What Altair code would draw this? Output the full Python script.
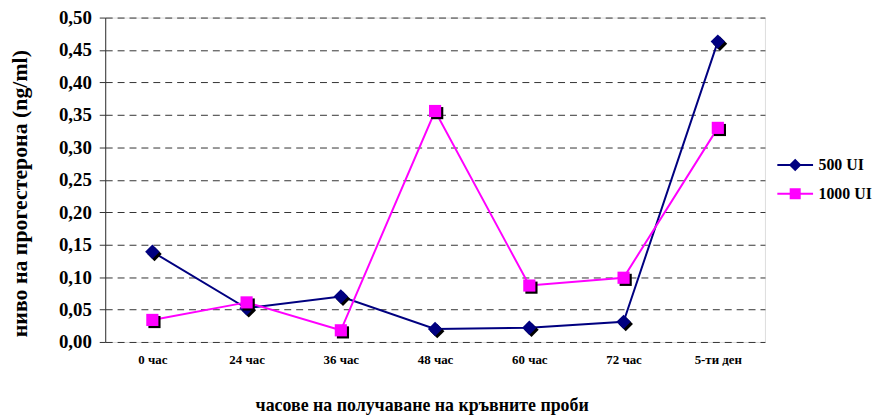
import altair as alt
import pandas as pd

categories = ["0 час", "24 час", "36 час", "48 час", "60 час", "72 час", "5-ти ден"]
series_names = ["500 UI", "1000 UI"]
values_500 = [0.139, 0.052, 0.070, 0.020, 0.022, 0.031, 0.463]
values_1000 = [0.034, 0.061, 0.018, 0.356, 0.087, 0.099, 0.330]
y_ticks = [0.0, 0.05, 0.10, 0.15, 0.20, 0.25, 0.30, 0.35, 0.40, 0.45, 0.50]
colors = ["#000080", "#FF00FF"]

rows = []
for c, v in zip(categories, values_500):
    rows.append({"cat": c, "series": series_names[0], "value": v})
for c, v in zip(categories, values_1000):
    rows.append({"cat": c, "series": series_names[1], "value": v})
df = pd.DataFrame(rows)

FONT = "Liberation Serif, Times New Roman, DejaVu Serif, serif"

DIAMOND = "M0,-1L1,0L0,1L-1,0Z"
DIAMOND_SH = "M0.3,-0.7L1.3,0.3L0.3,1.3L-0.7,0.3Z"
SQUARE = "M-1,-1L1,-1L1,1L-1,1Z"
SQUARE_SH = "M-0.65,-0.65L1.35,-0.65L1.35,1.35L-0.65,1.35Z"
BAR = "M-0.973,-0.054L0.973,-0.054L0.973,0.054L-0.973,0.054Z"
LEG_DIAMOND = BAR + "M0,-0.34L0.34,0L0,0.34L-0.34,0Z"
LEG_SQUARE = BAR + "M-0.3,-0.3L0.3,-0.3L0.3,0.3L-0.3,0.3Z"

x_enc = alt.X(
    "cat:N",
    sort=categories,
    scale=alt.Scale(type="point", padding=0.5),
    axis=alt.Axis(
        title="часове на получаване на кръвните проби",
        titleFont=FONT, titleFontSize=18, titleFontWeight="bold", titleColor="black",
        titleX=319, titleY=64, titleBaseline="middle", titleAlign="center",
        labelFont=FONT, labelFontSize=13, labelFontWeight="bold", labelColor="black",
        labelAngle=0, labelPadding=12, ticks=False, domain=False, grid=False,
    ),
)
y_enc = alt.Y(
    "value:Q",
    scale=alt.Scale(domain=[0, 0.5], nice=False, zero=True),
    axis=alt.Axis(
        title="ниво на прогестерона (ng/ml)",
        titleFont=FONT, titleFontSize=22, titleFontWeight="bold", titleColor="black",
        titleAngle=270, titleX=-86, titleY=177, titleAlign="center", titleBaseline="middle",
        values=y_ticks, labelOverlap=False,
        labelExpr="replace(format(datum.value, '.2f'), '.', ',')",
        labelFont=FONT, labelFontSize=19, labelFontWeight="bold", labelColor="black",
        labelPadding=8, tickSize=6, tickColor="#333333", domainColor="#333333",
        grid=True, gridColor="#333333", gridDash=[7, 5], gridWidth=1,
    ),
)

legend = alt.Legend(
    title=None, orient="none", legendX=677, legendY=130,
    labelFont=FONT, labelFontSize=16, labelFontWeight="bold", labelColor="black",
    symbolSize=1369, labelOffset=5, symbolOpacity=1, symbolStrokeWidth=0, labelLimit=200,
)

legend_layer = alt.Chart(df).mark_point(filled=True, opacity=0).encode(
    x=x_enc,
    y=y_enc,
    color=alt.Color("series:N", scale=alt.Scale(domain=series_names, range=colors), legend=legend),
    shape=alt.Shape("series:N", scale=alt.Scale(domain=series_names, range=[LEG_DIAMOND, LEG_SQUARE]), legend=legend),
)


def line(name, color):
    return alt.Chart(df).transform_filter(
        alt.datum.series == name
    ).mark_line(strokeWidth=2, color=color).encode(x=x_enc, y=y_enc)


def pts(name, shape, color, size):
    return alt.Chart(df).transform_filter(
        alt.datum.series == name
    ).mark_point(shape=shape, filled=True, size=size, opacity=1, color=color, strokeWidth=0).encode(
        x=x_enc, y=y_enc
    )


layers = [
    legend_layer,
    line(series_names[0], colors[0]),
    line(series_names[1], colors[1]),
    pts(series_names[0], DIAMOND_SH, "black", 210),
    pts(series_names[0], DIAMOND, colors[0], 210),
    pts(series_names[1], SQUARE_SH, "black", 150),
    pts(series_names[1], SQUARE, colors[1], 150),
]

chart = alt.layer(*layers).properties(
    width=665, height=327,
    autosize="none",
    padding={"left": 98, "top": 8, "right": 118, "bottom": 76},
).configure_view(
    fill="#C0C0C0", stroke=None,
).configure(background="white")

chart.save("out.html", embed_options={"renderer": "svg", "actions": False})
